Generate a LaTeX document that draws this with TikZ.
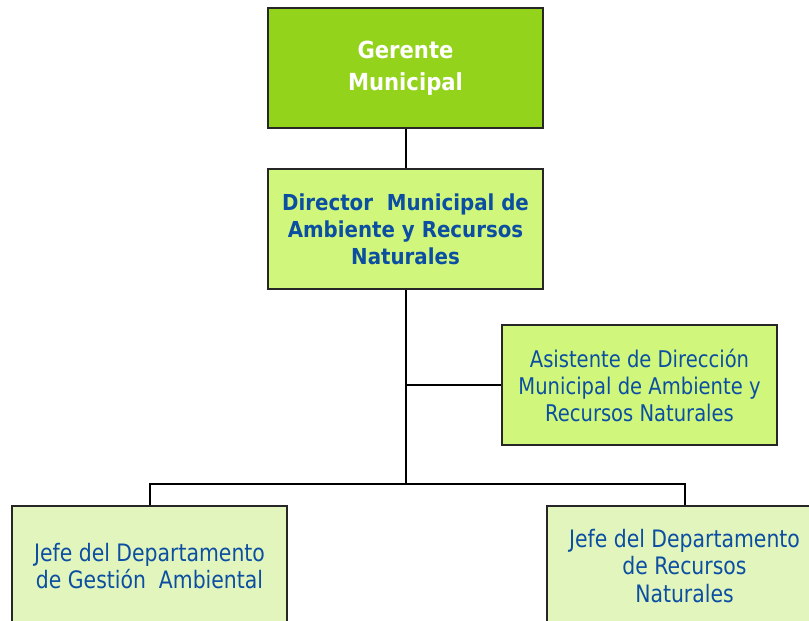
\documentclass[tikz,border=0pt]{standalone}
\usepackage{fontspec}
\newfontfamily\unitfont[FakeStretch=0.85]{DejaVu Sans}
\newfontfamily\headfont[FakeStretch=0.9]{DejaVu Sans}
\definecolor{bossgreen}{HTML}{94D31B}
\definecolor{dirgreen}{HTML}{D0F77C}
\definecolor{deptgreen}{HTML}{E2F5BD}
\definecolor{textblue}{HTML}{0B4EA2}

\tikzstyle{post}=[draw=black!85,line width=1.6pt,minimum width=275pt,minimum height=120pt,inner sep=0pt,align=center]
\tikzstyle{boss}=[post,fill=bossgreen,text=white,font=\headfont\bfseries\fontsize{23.5}{32}\selectfont]
\tikzstyle{director}=[post,fill=dirgreen,text=textblue,font=\headfont\bfseries\fontsize{22}{27}\selectfont]
\tikzstyle{staff}=[post,fill=dirgreen,text=textblue,font=\unitfont\fontsize{23}{27}\selectfont]
\tikzstyle{dept}=[post,fill=deptgreen,text=textblue,font=\unitfont\fontsize{24}{27.5}\selectfont]
\tikzstyle{link}=[draw,line width=2pt]

\begin{document}
\begin{tikzpicture}[x=1pt,y=-1pt]
  \useasboundingbox (0,0) rectangle (809,621);
  \clip (0,0) rectangle (809,621);

  \node[boss] (gerente) at (405.5,68) {Gerente\\Municipal};
  \node[director] (director) at (405.5,229) {Director~ Municipal de\\Ambiente y Recursos\\Naturales};
  \node[staff] (asistente) at (639.5,385) {Asistente de Direcci\'on\\Municipal de Ambiente y\\Recursos Naturales};
  \node[dept] (gestion) at (149.5,566) {Jefe del Departamento\\de Gesti\'on~ Ambiental};
  \node[dept] (recursos) at (684.5,566) {Jefe del Departamento\\de Recursos\\Naturales};

  \coordinate (fork) at (405.5,484);

  \path[link] (gerente) -- (director);
  \path[link] (director) -- (fork);
  \path[link] (asistente.west) -- (asistente.west -| director.south);
  \foreach \dest in {gestion, recursos}
    \path[link] (fork) -| (\dest.north);
\end{tikzpicture}
\end{document}
